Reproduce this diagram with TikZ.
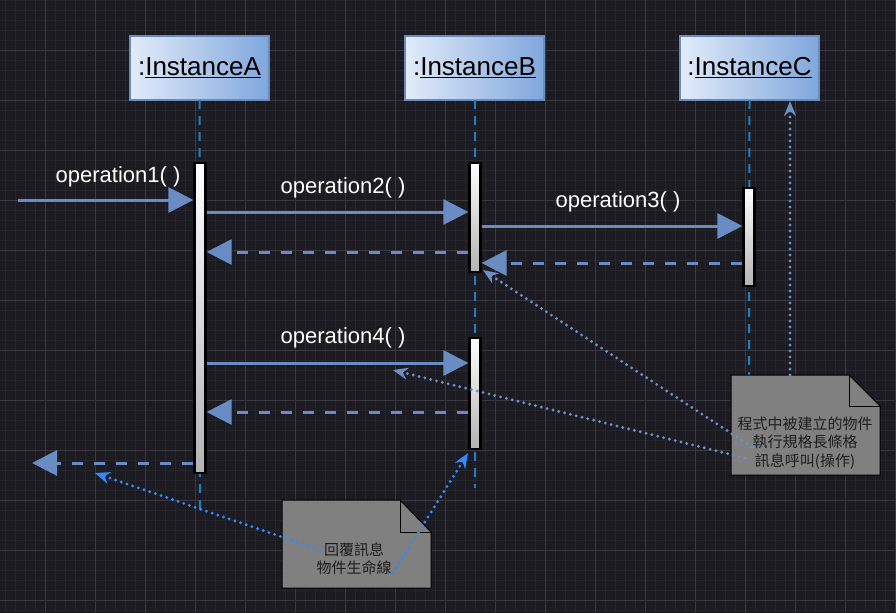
\documentclass[tikz,border=0pt]{standalone}
\usepackage{fontspec}
\setmainfont{Liberation Sans}
\newfontfamily\cjk{Noto Sans CJK TC}
\usetikzlibrary{arrows.meta,calc}
\definecolor{bg}{HTML}{1C1B21}
\definecolor{gminor}{HTML}{26252B}
\definecolor{gmajor}{HTML}{3A393F}
\definecolor{msgc}{HTML}{6A8CC4}
\definecolor{lifec}{HTML}{1E80C8}
\definecolor{boxl}{HTML}{E2ECFA}
\definecolor{boxr}{HTML}{7FA6DC}
\definecolor{boxd}{HTML}{6A8BBE}
\definecolor{notec}{HTML}{808080}
\definecolor{notet}{HTML}{1E1E1E}
\definecolor{annb}{HTML}{2F8CFF}
\definecolor{annl}{HTML}{6D8FC4}
\tikzset{
  instbox/.style={draw=boxd,line width=2pt,left color=boxl,right color=boxr,minimum width=139pt,minimum height=64pt,inner sep=0pt,text=black,font=\fontsize{26}{29}\selectfont},
  lifeline/.style={draw=lifec,line width=2pt,dash pattern=on 9pt off 7pt},
  actbar/.style={draw=black,line width=2.2pt,top color=white,bottom color=gray!60,minimum width=11pt,inner sep=0pt},
  msg/.style={draw=msgc,line width=3pt,-{Triangle[length=25pt,width=25pt]}},
  retmsg/.style={draw=msgc,line width=3pt,dash pattern=on 11pt off 11pt,-{Triangle[length=25pt,width=25pt]}},
  oplabel/.style={text=white,font=\fontsize{22}{25}\selectfont,inner sep=0pt},
  notebox/.style={fill=notec,draw=black,line width=1pt},
  notetext/.style={text=notet,font=\cjk\fontsize{15}{18.5}\selectfont,align=center,inner sep=0pt},
  annot/.style={line width=3.2pt,line cap=round,dash pattern=on 0pt off 6pt,-{Stealth[length=15pt,width=12pt]}},
}
\begin{document}
\begin{tikzpicture}[x=1pt,y=-1pt]
\useasboundingbox (0,0) rectangle (896,613);
\fill[bg] (0,0) rectangle (896,613);
\foreach \x in {5,15,...,895} \draw[gminor,line width=0.8pt] (\x,0) -- (\x,613);
\foreach \y in {0,10,...,610} \draw[gminor,line width=0.8pt] (0,\y) -- (896,\y);
\foreach \x in {45,95,...,895} \draw[gmajor,line width=1pt] (\x,0) -- (\x,613);
\foreach \y in {50,100,...,600} \draw[gmajor,line width=1pt] (0,\y) -- (896,\y);

% instances
\node[instbox] (iA) at (199.5,68) {:\underline{InstanceA}};
\node[instbox] (iB) at (474.5,68) {:\underline{InstanceB}};
\node[instbox] (iC) at (749.5,68) {:\underline{InstanceC}};

% lifeline ends
\coordinate (eA) at (200,510);
\coordinate (eB) at (474.5,488);
\coordinate (eC) at (749,378);
\draw[lifeline] ([yshift=1pt]iA.south) -- (eA);
\draw[lifeline] ([yshift=1pt]iB.south) -- (eB);
\draw[lifeline] ([yshift=1pt]iC.south) -- (eC);

% activation bars
\node[actbar,minimum height=310pt] (aA) at (200,318) {};
\node[actbar,minimum height=109pt] (b1) at (475,217.5) {};
\node[actbar,minimum height=111pt] (b2) at (475,393.5) {};
\node[actbar,minimum height=98pt] (aC) at (749,237) {};

% messages
\coordinate (src1) at (18,200);
\coordinate (ret0) at (32,463);
\draw[msg] (src1) -- (aA.west |- 0,200);
\draw[msg] (aA.east |- 0,212) -- (b1.west |- 0,212);
\draw[msg] (b1.east |- 0,226) -- (aC.west |- 0,226);
\draw[retmsg] (b1.west |- 0,252) -- (aA.east |- 0,252);
\draw[retmsg] (aC.west |- 0,263) -- (b1.east |- 0,263);
\draw[msg] (aA.east |- 0,363) -- (b2.west |- 0,363);
\draw[retmsg] (b2.west |- 0,412) -- (aA.east |- 0,412);
\draw[retmsg] (aA.west |- 0,463) -- (ret0);

\node[oplabel] (l1) at (118,177) {operation1( )};
\node[oplabel] (l2) at (343,188) {operation2( )};
\node[oplabel] (l3) at (618,202) {operation3( )};
\node[oplabel] (l4) at (343,338) {operation4( )};

% notes
\draw[notebox] (731,375) -- (849,375) -- (880,406) -- (880,475) -- (731,475) -- cycle;
\draw[black,line width=1pt] (849,375) -- (849,406) -- (880,406);
\node[notetext] (nR) at (805,443) {程式中被建立的物件\\執行規格長條格\\訊息呼叫(操作)};

\draw[notebox] (282,500) -- (400,500) -- (431,532) -- (431,588) -- (282,588) -- cycle;
\draw[black,line width=1pt] (400,500) -- (400,532) -- (431,532);
\node[notetext] (nL) at (354,558.5) {回覆訊息\\物件生命線};

% annotation connectors
\coordinate (r1) at (752,447);
\coordinate (r2) at (745,458);
\coordinate (r3) at (790,375);
\coordinate (t2) at (393,370);
\coordinate (l1s) at (320,550);
\coordinate (l2s) at (393,573);
\coordinate (tl1) at (95,473);
\draw[annot,annl] (r1) -- ([xshift=8pt,yshift=3pt]b1.south);
\draw[annot,annl] (r2) -- (t2);
\draw[annot,annl] (r3) -- (iC.south -| 790,0);
\draw[annot,annb] (l1s) -- (tl1);
\draw[annot,annb] (l2s) -- ([xshift=-7pt,yshift=-3pt]b2.south);
\end{tikzpicture}
\end{document}
